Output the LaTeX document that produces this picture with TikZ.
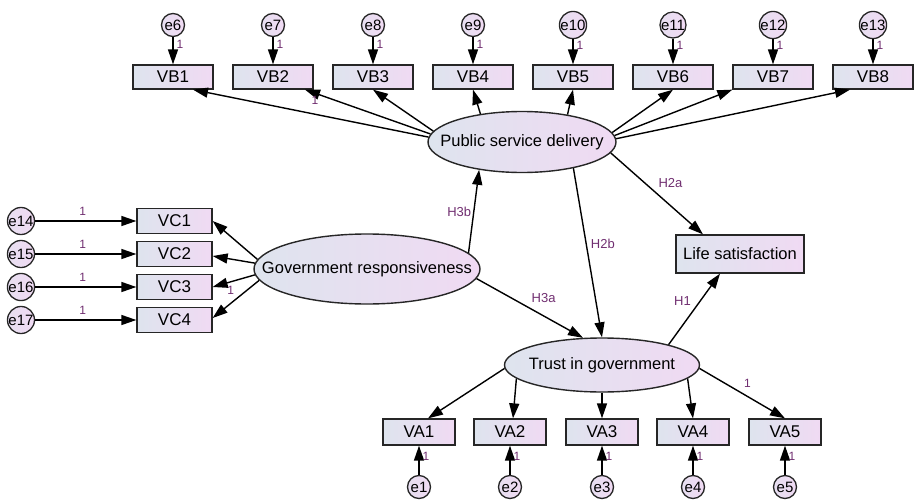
\documentclass[tikz,border=0pt]{standalone}
\usepackage{fontspec}
\setmainfont{Liberation Sans}
\usetikzlibrary{arrows.meta,shapes.geometric}

\definecolor{lblpurple}{RGB}{112,46,112}
\definecolor{fillleft}{RGB}{222,228,238}
\definecolor{fillright}{RGB}{240,218,243}
\newcommand{\ctext}[1]{\makebox[0pt]{#1}}

\tikzset{
  obs/.style={draw=black!85,line width=1.3pt,left color=fillleft,right color=fillright,
    minimum height=24pt,inner sep=0pt,font=\fontsize{17}{19}\selectfont},
  latent/.style={ellipse,draw=black!85,line width=1.4pt,left color=fillleft,right color=fillright,
    inner sep=0pt,font=\fontsize{16.5}{18}\selectfont},
  err/.style={circle,draw=black!85,line width=1.3pt,left color=fillleft!50!fillright,right color=fillright,
    minimum size=23pt,inner sep=0pt,font=\fontsize{15}{16}\selectfont},
  one/.style={text=lblpurple,inner sep=1pt,font=\fontsize{12}{13}\selectfont},
  hyp/.style={text=lblpurple,inner sep=1pt,font=\fontsize{13}{14}\selectfont}
}

\begin{document}
\begin{tikzpicture}[x=1pt,y=-1pt,>={Triangle[length=15pt,width=10pt]},line width=1.4pt]
  \useasboundingbox (0,0) rectangle (914,501);
  % latent variables and outcome
  \node[latent,minimum width=188pt,minimum height=61pt] (psd) at (522,142) {\ctext{Public service delivery}};
  \node[latent,minimum width=226pt,minimum height=70pt] (gov) at (367,269) {\ctext{Government responsiveness}};
  \node[latent,minimum width=195pt,minimum height=54pt] (trust) at (602,365) {\ctext{Trust in government}};
  \node[obs,minimum width=128pt,minimum height=38pt,font=\fontsize{16.5}{18}\selectfont] (ls) at (740,254) {Life satisfaction};
  % indicators with their errors
  \foreach \i in {1,...,8} {
    \pgfmathtruncatemacro\k{\i+5}
    \node[obs,minimum width=80pt] (vb\i) at (73+100*\i,77) {VB\i};
    \node[err] (e\k) at (73+100*\i,25) {e\k};
    \draw[->] (e\k) -- (vb\i) node[one,pos=0.26,right=2pt] {1};
  }
  \foreach \i in {1,...,4} {
    \pgfmathtruncatemacro\k{\i+13}
    \node[obs,minimum width=75pt,minimum height=25pt] (vc\i) at (174.5,188+33*\i) {VC\i};
    \node[err,minimum size=25pt] (e\k) at (21,188+33*\i) {e\k};
    \draw[->] (e\k) -- (vc\i) node[one,pos=0.47,above=4pt] {1};
  }
  \foreach \i/\x in {1/419,2/510,3/602,4/693,5/785} {
    \node[obs,minimum width=72pt,minimum height=26pt] (va\i) at (\x,432) {VA\i};
    \node[err] (e\i) at (\x,487) {e\i};
    \draw[->] (e\i) -- (va\i) node[one,pos=0.65,right=2pt] {1};
  }
  % loadings
  \draw[->] (psd.177) -- ([xshift=20pt]vb1.south);
  \draw[->] (psd.175) -- ([xshift=32pt]vb2.south) node[one,pos=0.92,below=1pt] {1};
  \draw[->] (psd.173) -- (vb3.south);
  \draw[->] (psd.146) -- (vb4.south);
  \draw[->] (psd.31) -- (vb5.south);
  \draw[->] (psd.6) -- (vb6.south);
  \draw[->] (psd.4) -- (vb7.south west);
  \draw[->] (psd.2) -- ([xshift=-23pt]vb8.south);
  \draw[->] (gov.175) -- (vc1.east);
  \draw[->] (gov.177) -- ([yshift=-2pt]vc2.east);
  \draw[->] (gov.183) -- (vc3.east) node[one,pos=0.57,below=3pt] {1};
  \draw[->] (gov.186) -- ([yshift=2pt]vc4.east);
  \draw[->] (trust.182) -- ([xshift=9pt]va1.north);
  \draw[->] (trust.189) -- ([xshift=3pt]va2.north);
  \draw[->] (trust.south) -- (va3.north);
  \draw[->] (trust.351) -- (va4.north);
  \draw[->] (trust.358) -- (va5.north) node[one,pos=0.56,above=7pt] {1};
  % hypotheses
  \draw[->] (gov.9) -- (psd.213) node[hyp,midway,left=1pt] {H3b};
  \draw[->] (psd.333) -- (trust.north) node[hyp,pos=0.45,right=3pt] {H2b};
  \draw[->] (psd.353) -- ([xshift=-37pt]ls.north) node[hyp,pos=0.37,right=12pt] {H2a};
  \draw[->] (gov.-5) -- (trust.125) node[hyp,pos=0.63,above=12pt] {H3a};
  \draw[->] (trust.17) -- ([xshift=-20pt]ls.south) node[hyp,pos=0.62,left=8pt] {H1};
\end{tikzpicture}
\end{document}
